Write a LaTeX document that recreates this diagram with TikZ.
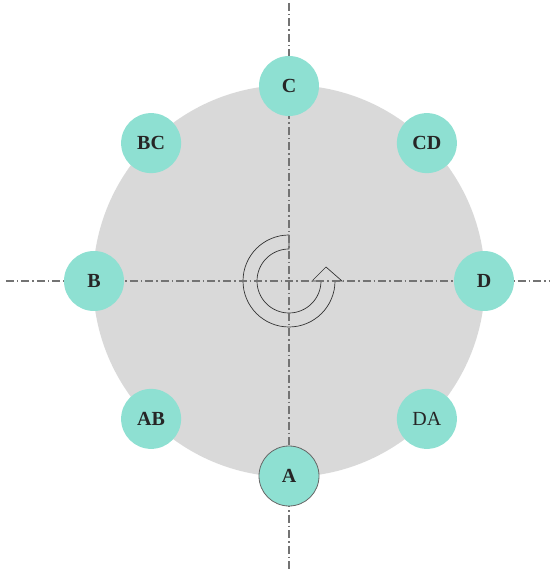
\documentclass[tikz,border=0pt]{standalone}
\usepackage{fontspec}
\setmainfont{Liberation Serif}
\begin{document}
\begin{tikzpicture}[x=1pt,y=1pt,
  axisline/.style={draw=black!55,line width=1.1pt,dash pattern=on 8pt off 3pt on 1.5pt off 3pt},
  dot/.style={circle,fill=teal1,minimum size=60pt,inner sep=0pt,font=\fontsize{20}{20}\selectfont\bfseries,text=black!85},
  ]
\definecolor{teal1}{HTML}{8EE0D2}
\definecolor{bggray}{HTML}{D9D9D9}
\useasboundingbox (-289,-291) rectangle (266,281);
\fill[bggray] (0,0) circle (196);
% rotation arrow
\draw[line width=0.7pt,draw=black!80,fill=bggray]
  (0,46) arc[start angle=90,end angle=360,radius=46]
  -- (53,0) -- (37,14) -- (23,0) -- (32,0)
  arc[start angle=360,end angle=90,radius=32] -- cycle;
% axes
\coordinate (vt) at (0,278);
\coordinate (vb) at (0,-288);
\coordinate (hl) at (-283,0);
\coordinate (hr) at (261,0);
\draw[axisline] (vt) -- (vb);
\draw[axisline] (hl) -- (hr);
% nodes
\node[dot] (C) at (90:195) {C};
\node[dot] (CD) at (45:195) {CD};
\node[dot] (D) at (0:195) {D};
\node[dot,font=\fontsize{20}{20}\selectfont] (DA) at (-45:195) {DA};
\node[dot,draw=black!60,line width=0.8pt] (A) at (-90:195) {A};
\node[dot] (AB) at (-135:195) {AB};
\node[dot] (B) at (180:195) {B};
\node[dot] (BC) at (135:195) {BC};
\end{tikzpicture}
\end{document}
